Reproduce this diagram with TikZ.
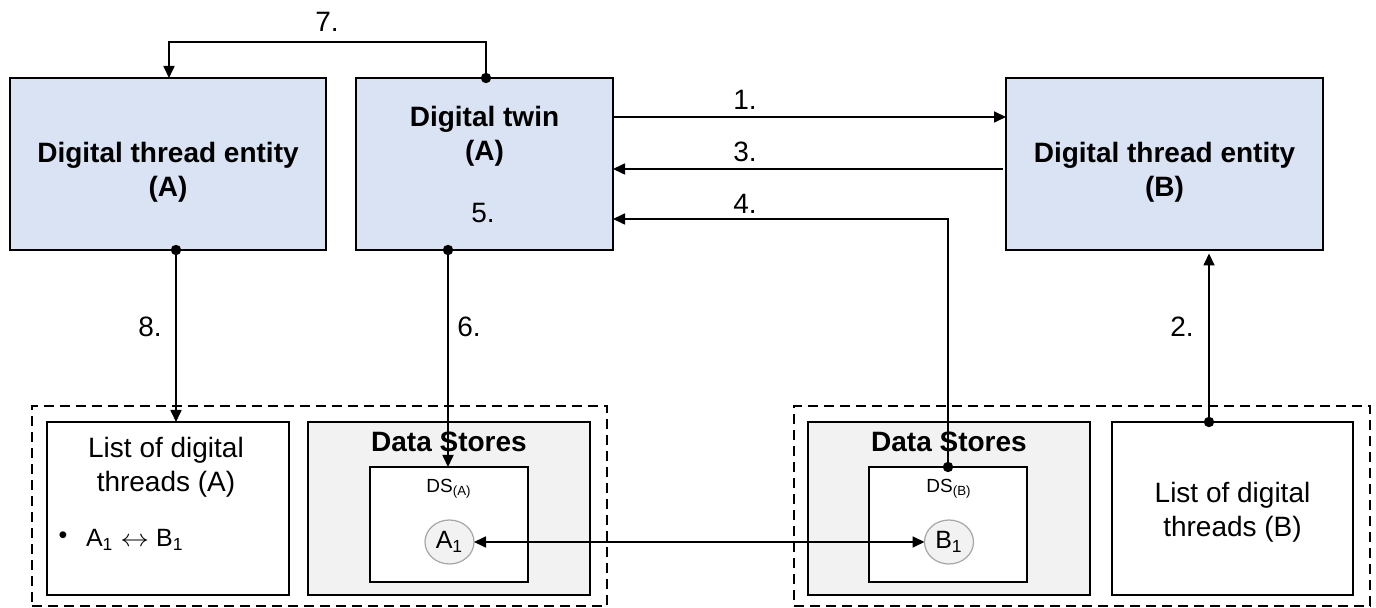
\documentclass[tikz,border=0pt]{standalone}
\usepackage{fontspec}
\setmainfont{Liberation Sans}
\usetikzlibrary{arrows.meta,shapes.geometric}
\definecolor{boxblue}{HTML}{DAE3F3}
\definecolor{storegray}{HTML}{F2F2F2}
\definecolor{circgray}{HTML}{A6A6A6}
\begin{document}
\begin{tikzpicture}[x=0.5pt,y=-0.5pt,
  every node/.style={inner sep=0pt, outer sep=0pt},
  topbox/.style={draw=black, line width=1pt, fill=boxblue, minimum height=86pt},
  plainbox/.style={draw=black, line width=1pt, fill=white, minimum height=86.5pt},
  storebox/.style={draw=black, line width=1pt, fill=storegray, minimum width=141pt, minimum height=86.5pt},
  innerbox/.style={draw=black, line width=1pt, fill=white, minimum width=79pt, minimum height=57.5pt},
  groupbox/.style={draw=black, line width=0.9pt, dash pattern=on 5pt off 3pt, minimum height=100pt},
  circ/.style={ellipse, draw=circgray, line width=0.6pt, fill=storegray, minimum width=24.5pt, minimum height=22pt, font=\fontsize{12.5}{15}\selectfont},
  boldtxt/.style={font=\fontsize{14}{17}\selectfont\bfseries, align=center},
  normtxt/.style={font=\fontsize{14}{17}\selectfont, align=center},
  smalltxt/.style={font=\fontsize{9.5}{11}\selectfont},
  itemtxt/.style={font=\fontsize{12.5}{15}\selectfont},
  conn/.style={draw=black, line width=0.85pt},
  arr/.style={conn, -{Triangle[length=6pt,width=5.5pt]}},
  darr/.style={conn, {Triangle[length=6pt,width=5.5pt]}-{Triangle[length=6pt,width=5.5pt]}},
  dotr/.style={fill=black}]
\useasboundingbox (0,0) rectangle (1376,608);

% top boxes
\node[topbox, minimum width=158pt] (dteA) at (168,164) {};
\node[topbox, minimum width=128.5pt] (twin) at (484.5,164) {};
\node[topbox, minimum width=158.5pt] (dteB) at (1164.5,164.5) {};
\node[boldtxt] (dteAt) at (168,172) {Digital thread entity\\(A)};
\node[boldtxt] (twint) at (484.5,136) {Digital twin\\(A)};
\node[normtxt] (l5) at (483,213) {5.};
\node[boldtxt] (dteBt) at (1164.5,172) {Digital thread entity\\(B)};

% bottom groups
\node[groupbox, minimum width=287.5pt] (grpA) at (319.5,506) {};
\node[groupbox, minimum width=288pt] (grpB) at (1082,506) {};
\node[plainbox, minimum width=121pt] (listA) at (168,508.5) {};
\node[storebox] (storeA) at (449,508.5) {};
\node[innerbox] (dsA) at (449,524.5) {};
\node[storebox] (storeB) at (949,508.5) {};
\node[innerbox] (dsB) at (948,524.5) {};
\node[plainbox, minimum width=120.5pt] (listB) at (1232.5,508.5) {};

\node[normtxt] (listAt) at (166,467) {List of digital\\threads (A)};
\node[itemtxt] (bul) at (63,538) {\textbullet};
\node[itemtxt, anchor=base west] (itemA) at (86,547) {A\textsubscript{1} \scalebox{1.2}[1]{$\leftrightarrow$} B\textsubscript{1}};
\node[boldtxt] (storeAt) at (449,442) {Data Stores};
\node[smalltxt] (dsAt) at (449,489) {DS\textsubscript{(A)}};
\node[circ] (cA) at (449.5,542) {A\textsubscript{1}};
\node[boldtxt] (storeBt) at (949,442) {Data Stores};
\node[smalltxt] (dsBt) at (949,489) {DS\textsubscript{(B)}};
\node[circ] (cB) at (949,542) {B\textsubscript{1}};
\node[normtxt] (listBt) at (1232.5,512) {List of digital\\threads (B)};

% helper coordinates
\coordinate (x169) at (169,0);
\coordinate (x486) at (486,0);
\coordinate (x176) at (176,0);
\coordinate (x448) at (448,0);
\coordinate (x1209) at (1209,0);
\coordinate (y42) at (0,42);
\coordinate (y117) at (0,117);
\coordinate (y169) at (0,169);
\coordinate (y219) at (0,219);

% 7.
\coordinate (p7s) at (twin.north -| x486);
\coordinate (p7e) at (dteA.north -| x169);
\draw[arr] (p7s) -- (p7s |- y42) -| (p7e);
\fill[dotr] (p7s) circle[radius=2.6pt];
\node[normtxt] (l7) at (327,22) {7.};

% 1.
\draw[arr] (twin.east |- y117) -- (dteB.west |- y117);
\node[normtxt] (l1) at (745,100) {1.};
% 3.
\draw[arr, shorten <=1.5pt] (dteB.west |- y169) -- (twin.east |- y169);
\node[normtxt] (l3) at (745,152) {3.};
% 4.
\draw[arr] (dsB.north) -- (dsB.north |- y219) -- (twin.east |- y219);
\fill[dotr] (dsB.north) circle[radius=2.6pt];
\node[normtxt] (l4) at (745,204) {4.};

% 6.
\coordinate (p6s) at (twin.south -| x448);
\draw[arr] (p6s) -- (dsA.north -| x448);
\fill[dotr] (p6s) circle[radius=2.6pt];
\node[normtxt] (l6) at (469,327) {6.};

% 8.
\coordinate (p8s) at (dteA.south -| x176);
\draw[arr] (p8s) -- (listA.north -| x176);
\fill[dotr] (p8s) circle[radius=2.6pt];
\node[normtxt] (l8) at (150,327) {8.};

% 2.
\coordinate (p2s) at (listB.north -| x1209);
\draw[arr, shorten >=1.5pt] (p2s) -- (dteB.south -| x1209);
\fill[dotr] (p2s) circle[radius=2.6pt];
\node[normtxt] (l2) at (1182,327) {2.};

% A1 <-> B1
\draw[darr] (cA.east) -- (cB.west);
\end{tikzpicture}
\end{document}
